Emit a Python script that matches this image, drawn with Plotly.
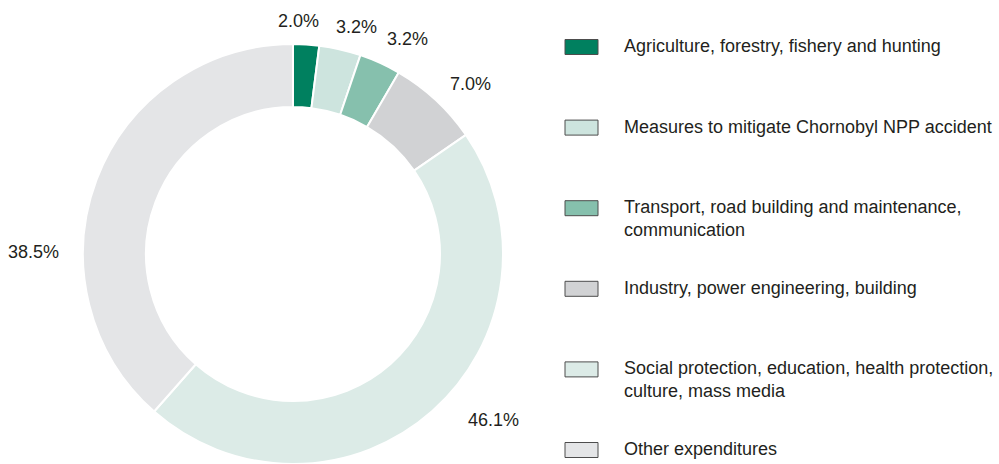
import plotly.graph_objects as go

# Expenditure structure, per cent of total
categories = [
    "Agriculture, forestry, fishery and hunting",
    "Measures to mitigate Chornobyl NPP accident",
    "Transport, road building and maintenance,<br>communication",
    "Industry, power engineering, building",
    "Social protection, education, health protection,<br>culture, mass media",
    "Other expenditures",
]
shares = [2.0, 3.2, 3.2, 7.0, 46.1, 38.5]
colors = ["#00805f", "#cde4de", "#86c0ad", "#d1d2d4", "#dcebe7", "#e4e5e7"]

# Where each percentage label sits (pixel centre of the text)
label_xy = [(298, 21), (356, 27), (407, 39), (470, 84), (493, 420), (33, 252)]

W, H = 999, 464
FONT = "Liberation Sans, Arial, Helvetica, sans-serif"
TEXT_COLOR = "#231f20"

fig = go.Figure()
fig.add_trace(go.Pie(
    labels=categories,
    values=shares,
    sort=False,
    direction="clockwise",
    rotation=0,
    hole=0.70,
    marker=dict(colors=colors, line=dict(color="white", width=2)),
    textinfo="none",
    automargin=False,
    domain=dict(x=[83 / W, 503 / W], y=[0, 420 / H]),
    showlegend=False,
    hoverinfo="label+value",
))

shapes, annotations = [], []

# Percentage labels around the ring
for val, (px, py) in zip(shares, label_xy):
    annotations.append(dict(
        xref="paper", yref="paper",
        x=px / W, y=1 - py / H,
        xanchor="center", yanchor="middle",
        text=f"{val:.1f}%", showarrow=False,
        font=dict(family=FONT, size=18, color=TEXT_COLOR),
    ))

# Custom legend: swatch + label per category, evenly spaced rows
row0, row_step = 47, 80.6
for i, (name, col) in enumerate(zip(categories, colors)):
    yc = row0 + row_step * i
    shapes.append(dict(
        type="rect", xref="paper", yref="paper",
        x0=565 / W, x1=598 / W,
        y0=1 - (yc + 7.5) / H, y1=1 - (yc - 7.5) / H,
        fillcolor=col, line=dict(color="#4d4d4d", width=1),
    ))
    annotations.append(dict(
        xref="paper", yref="paper",
        x=622 / W, y=1 - (yc - 13) / H,
        xanchor="left", yanchor="top", align="left",
        text=name, showarrow=False,
        font=dict(family=FONT, size=18, color=TEXT_COLOR),
    ))

fig.update_layout(
    width=W, height=H,
    margin=dict(l=0, r=0, t=0, b=0),
    paper_bgcolor="white",
    plot_bgcolor="white",
    shapes=shapes,
    annotations=annotations,
    showlegend=False,
)

fig.write_html("out.html")
